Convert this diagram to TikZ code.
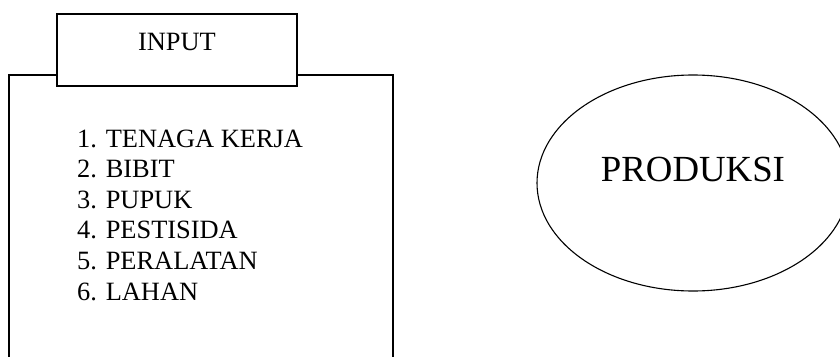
\documentclass[tikz,border=0pt]{standalone}
\usepackage{fontspec}
\setmainfont{Liberation Serif}
\usetikzlibrary{shapes.geometric}
\begin{document}
\begin{tikzpicture}[x=1pt,y=-1pt,
  boxline/.style={draw=black,line width=1.3pt,fill=white,inner sep=0pt,rectangle},
  txt/.style={inner sep=0pt,font=\fontsize{26.4}{30.6}\selectfont},
  bigtxt/.style={inner sep=0pt,font=\fontsize{36.8}{40}\selectfont}]
\useasboundingbox (0,0) rectangle (840,356);
\clip (0,0) rectangle (840,356);
\fill[white] (0,0) rectangle (840,356);
% main box (bottom runs off the page)
\node[boxline,minimum width=384pt,minimum height=295pt] (mainbox) at (201,222.5) {};
% input tab
\node[boxline,minimum width=240pt,minimum height=72pt] (inputbox) at (177,50) {};
\node[txt,anchor=base] (inputlbl) at (inputbox.center) {INPUT};
% list
\node[txt,align=left,anchor=north west] (list) at (77,129.5) {1. TENAGA KERJA\\2. BIBIT\\3. PUPUK\\4. PESTISIDA\\5. PERALATAN\\6. LAHAN};
% production ellipse
\node[ellipse,draw=black,line width=1.1pt,minimum width=312pt,minimum height=216pt,inner sep=0pt] (prod) at (693,183) {};
\node[bigtxt,anchor=base] (prodlbl) at ([yshift=2pt]prod.center) {PRODUKSI};
\end{tikzpicture}
\end{document}
